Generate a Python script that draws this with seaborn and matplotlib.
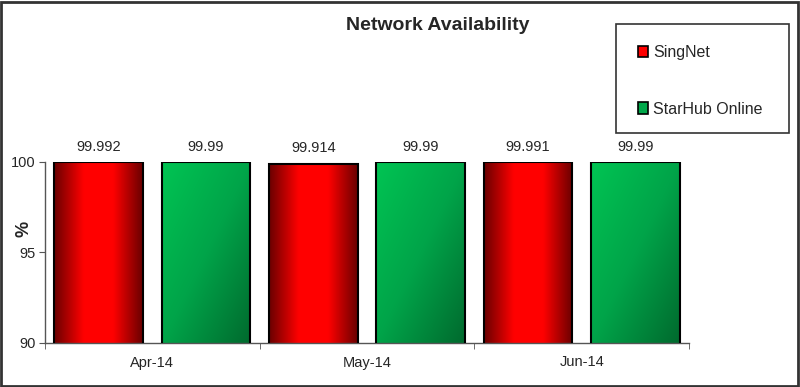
import numpy as np
import pandas as pd
import matplotlib
matplotlib.use("Agg")
import matplotlib.pyplot as plt
from matplotlib.patches import Rectangle
from matplotlib.colors import LinearSegmentedColormap
import seaborn as sns

months = ["Apr-14", "May-14", "Jun-14"]
series = ["SingNet", "StarHub Online"]
singnet = [99.992, 99.914, 99.991]
starhub = [99.99, 99.99, 99.99]
labels_singnet = ["99.992", "99.914", "99.991"]
labels_starhub = ["99.99", "99.99", "99.99"]
yticks = [90, 95, 100]

sns.set_style("white")
plt.rcParams['font.family'] = ['Liberation Sans', 'DejaVu Sans']

df = pd.DataFrame({
    "Month": months * 2,
    "Provider": [series[0]] * 3 + [series[1]] * 3,
    "Value": singnet + starhub,
})

fig = plt.figure(figsize=(8, 3.87), dpi=100)
ax = fig.add_axes([45 / 800, 1 - 343 / 387, (689 - 45) / 800, (343 - 162) / 387])

palette = {series[0]: "#ff0000", series[1]: "#00a84a"}
sns.barplot(data=df, x="Month", y="Value", hue="Provider", order=months,
            hue_order=series, palette=palette, width=1.0, gap=0.175,
            edgecolor="black", linewidth=1.5, legend=False, ax=ax, zorder=3)

ax.set_xlim(-0.5, 2.5)
ax.set_ylim(90, 100)

red_cmap = LinearSegmentedColormap.from_list("r", ["#6a0000", "#ff0000", "#ff0000", "#6a0000"])
green_cmap = LinearSegmentedColormap.from_list("g", ["#00c453", "#00a449", "#006a2e"])

containers = ax.containers
for ci, cont in enumerate(containers):
    for patch in cont.patches:
        x0 = patch.get_x()
        w = patch.get_width()
        h = patch.get_height()
        y0 = 90
        y1 = h
        if ci == 0:
            xx = np.linspace(0, 1, 200)
            grad = np.tile(xx, (2, 1))
            cmap = red_cmap
        else:
            gx, gy = np.meshgrid(np.linspace(0, 1, 100), np.linspace(0, 1, 100))
            grad = (gx + gy) / 2
            cmap = green_cmap
        im = ax.imshow(grad, cmap=cmap, extent=[x0, x0 + w, y0, y1],
                       aspect="auto", origin="upper", zorder=2, interpolation="bilinear")
        im.set_clip_path(patch)
        patch.set_facecolor("none")

ax.set_xlim(-0.5, 2.5)
ax.set_ylim(90, 100)

ax.bar_label(containers[0], labels=labels_singnet, padding=6, fontsize=10.5)
ax.bar_label(containers[1], labels=labels_starhub, padding=6, fontsize=10.5)

for s in ["top", "right"]:
    ax.spines[s].set_visible(False)
for s in ["left", "bottom"]:
    ax.spines[s].set_color("#555555")
    ax.spines[s].set_linewidth(1.0)

ax.set_yticks(yticks)
ax.set_yticklabels([str(t) for t in yticks], fontsize=10.5)
ax.tick_params(axis="y", which="major", direction="out", length=4, left=True, color="#555555", pad=3)
ax.set_xticks(range(len(months)))
ax.set_xticklabels(months, fontsize=10.5)
ax.tick_params(axis="x", which="major", length=0, pad=9)
ax.set_xticks([-0.5, 0.5, 1.5, 2.5], minor=True)
ax.tick_params(axis="x", which="minor", direction="out", length=4, bottom=True, color="#555555")

ax.set_xlabel("")
ax.set_ylabel("")
fig.text(24 / 800, 1 - 229 / 387, "%", rotation=90, ha="center", va="center",
         fontsize=13, fontweight="bold")

fig.text(438 / 800, 1 - 25 / 387, "Network Availability", ha="center", va="center",
         fontsize=14, fontweight="bold")

# legend
fig.add_artist(Rectangle((616 / 800, 1 - 133 / 387), (789 - 616) / 800, (133 - 24) / 387,
                         transform=fig.transFigure, fill=False, edgecolor="#333333", linewidth=1.2))
handles = [Rectangle((0, 0), 1, 1, facecolor="#ff0000", edgecolor="black", linewidth=1.2),
           Rectangle((0, 0), 1, 1, facecolor="#00a84a", edgecolor="black", linewidth=1.2)]
fig.legend(handles, series, loc="upper left", bbox_to_anchor=(638 / 800, 1 - 45 / 387),
           frameon=False, fontsize=11.5, handlelength=0.65, handleheight=0.7,
           handletextpad=0.3, labelspacing=2.6, borderpad=0, borderaxespad=0)

# outer border
fig.add_artist(Rectangle((1 / 800, 1 / 387), 797 / 800, 384 / 387, transform=fig.transFigure,
                         fill=False, edgecolor="#333333", linewidth=2))

fig.savefig("out.png", dpi=100)
